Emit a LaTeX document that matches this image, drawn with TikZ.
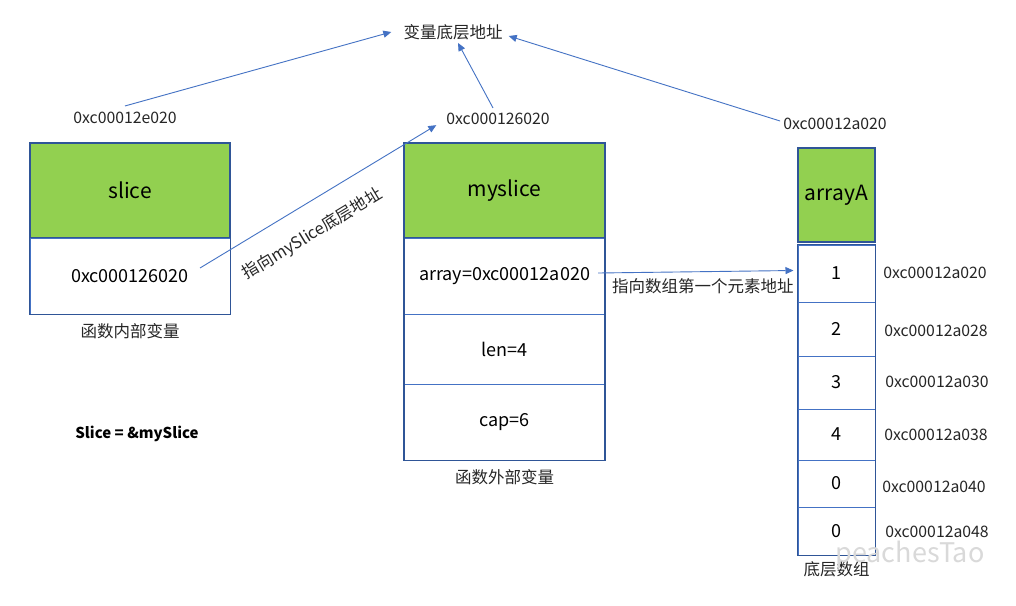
\documentclass[tikz,border=0pt]{standalone}
\usepackage{fontspec}
\setmainfont{Noto Sans CJK SC}
\usepackage{xcolor}
\usetikzlibrary{
    arrows.meta,
    positioning
}
\tikzset{
  head/.style  = {draw=EdgeBlue, fill=CellGreen, line width=1.2pt, inner sep=0pt,
                  font=\fontsize{21}{24}\selectfont},
  field/.style = {draw=LineBlue, fill=white, line width=1.0pt, inner sep=0pt,
                  font=\fontsize{18}{21}\selectfont},
  addr/.style  = {inner sep=3pt, font=\fontsize{15.8}{18}\selectfont, text=TextGray},
  note/.style  = {inner sep=3pt, font=\fontsize{16.5}{19}\selectfont, text=TextGray},
  arr/.style   = {-{Triangle[length=8pt,width=7pt]}, LineBlue, line width=0.9pt}
}
\definecolor{CellGreen}{RGB}{146,208,80}
\definecolor{EdgeBlue}{RGB}{47,85,151}
\definecolor{LineBlue}{RGB}{68,114,196}
\definecolor{TextGray}{RGB}{38,38,38}

\begin{document}
\begin{tikzpicture}[
    x=1pt, y=-1pt,
    wide/.style={minimum width=200pt},
    cell/.style={field, minimum width=77pt}
]
\fill[white] (0,0) rectangle (1016,605);

% slice
\node[head, wide, minimum height=95pt] (sliceHead) at (130,190.5) {slice};
\node[field, wide, minimum height=76pt] (sliceVal) at (130,276) {0xc000126020};
\draw[EdgeBlue, line width=1.2pt] (sliceHead.north west) rectangle (sliceVal.south east);
\node[note, below=6pt of sliceVal] (inner) {函数内部变量};
\node[note, font=\fontsize{15}{18}\selectfont\bfseries, text=black] (expr) at (137,434) {Slice = \&mySlice};

% myslice
\node[head, wide, minimum height=95pt] (myHead) at (504.5,190.5) {myslice};
\node[field, wide, minimum height=76pt] (myArr) at (504.5,276) {array=0xc00012a020};
\node[field, wide, minimum height=70pt] (myLen) at (504.5,349) {len=4};
\node[field, wide, minimum height=76pt] (myCap) at (504.5,422) {cap=6};
\draw[EdgeBlue, line width=1.2pt] (myHead.north west) rectangle (myCap.south east);
\node[note, below=6pt of myCap] (outer) {函数外部变量};

% arrayA
\node[head, minimum width=77pt, minimum height=94pt] (arrHead) at (836.5,195) {arrayA};
\node[cell, minimum height=57pt] (c1) at (836.5,273.5) {1};
\node[cell, minimum height=54pt] (c2) at (836.5,329) {2};
\node[cell, minimum height=53pt] (c3) at (836.5,382.5) {3};
\node[cell, minimum height=51pt] (c4) at (836.5,434.5) {4};
\node[cell, minimum height=47pt] (c5) at (836.5,483.5) {0};
\node[cell, minimum height=48pt] (c6) at (836.5,531) {0};
\draw[EdgeBlue, line width=1.2pt] (c1.north west) rectangle (c6.south east);
\node[note, below=3pt of c6] (base) {底层数组};

\node[addr] (a1) at (935,273) {0xc00012a020};
\node[addr] (a2) at (936,331) {0xc00012a028};
\node[addr] (a3) at (937,382) {0xc00012a030};
\node[addr] (a4) at (936,435) {0xc00012a038};
\node[addr] (a5) at (934,487) {0xc00012a040};
\node[addr] (a6) at (937,532) {0xc00012a048};

% addresses on top
\node[note, inner sep=6pt] (root) at (453,32) {变量底层地址};
\node[addr] (addrSlice) at (125,118) {0xc00012e020};
\node[addr] (addrMy) at (498,119) {0xc000126020};
\node[addr] (addrArr) at (835,124) {0xc00012a020};

\draw[arr] ([yshift=3pt]addrSlice.north) -- ([xshift=-6pt]root.west);
\draw[arr] ([xshift=-5pt,yshift=2pt]addrMy.north) -- ([xshift=5pt,yshift=3pt]root.south);
\draw[arr] ([yshift=3pt]addrArr.west) -- ([yshift=-4pt]root.east);

\coordinate (ptr) at (200,268);
\draw[arr, shorten >=8pt] (ptr) -- node[sloped, below=17pt, pos=0.40, note]{指向mySlice底层地址} ([yshift=-2pt]addrMy.west);
\draw[arr] ([xshift=-7pt,yshift=3pt]myArr.east) -- node[below=3pt, xshift=7pt, note]{指向数组第一个元素地址} ([xshift=-4pt,yshift=3pt]c1.west);

\node[text=gray!30, font=\fontsize{27}{30}\selectfont] (mark) at (910,555) {peachesTao};
\end{tikzpicture}
\end{document}
